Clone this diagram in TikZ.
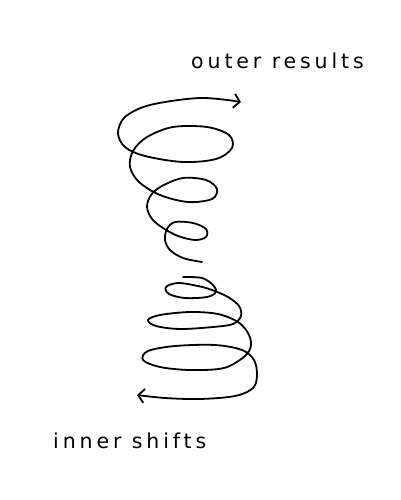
\documentclass[tikz,border=0pt]{standalone}
\usepackage{fontspec}
\setmainfont{DejaVu Sans}
\usetikzlibrary{arrows.meta}
\tikzset{
  spiral/.style={line width=1.8pt, line cap=round, line join=round, black,
    -{Straight Barb[length=6pt,width=14pt,line width=1.8pt]}},
  handlabel/.style={inner sep=0pt, anchor=base west,
    font=\fontsize{20.5}{24}\selectfont\addfontfeature{LetterSpace=19}}
}
\begin{document}
\begin{tikzpicture}[x=1pt,y=-1pt]
\useasboundingbox (0,0) rectangle (400,500);
\node[handlabel] (outer) at (191,69) {outer results};
\node[handlabel] (inner) at (53,448) {inner shifts};
% upper spiral (towards outer results)
\draw[spiral] plot[smooth, tension=0.55] coordinates {
 (202,262) (183,258) (170,250) (165,240) (167,229) (175,222) (193,223)
 (206,229) (206,237) (195,240) (178,236) (163,228) (152,219) (147,207)
 (151,195) (162,186) (183,178) (206,180) (217,189) (212,199) (188,202)
 (160,195) (139,182) (130,167) (133,151) (147,137) (173,127) (207,127)
 (229,135) (232,148) (216,159) (183,162) (145,156) (125,147) (118,133)
 (125,117) (150,105) (200,98) (241,102)};
% lower spiral (towards inner shifts)
\draw[spiral] plot[smooth, tension=0.55] coordinates {
 (183,277) (202,278) (213,285) (216,292) (207,297) (185,298) (169,294)
 (166,287) (178,283) (198,286) (212,290) (228,297) (239,306) (241,316)
 (233,324) (213,327) (180,329) (156,326) (148,320) (160,315) (190,312)
 (218,314) (238,322) (248,333) (251,345) (245,356) (224,368) (190,370)
 (160,367) (143,360) (148,351) (175,346) (215,345) (242,350) (254,360)
 (257,375) (253,388) (235,396) (200,399) (165,398) (137,395)};
\end{tikzpicture}
\end{document}
